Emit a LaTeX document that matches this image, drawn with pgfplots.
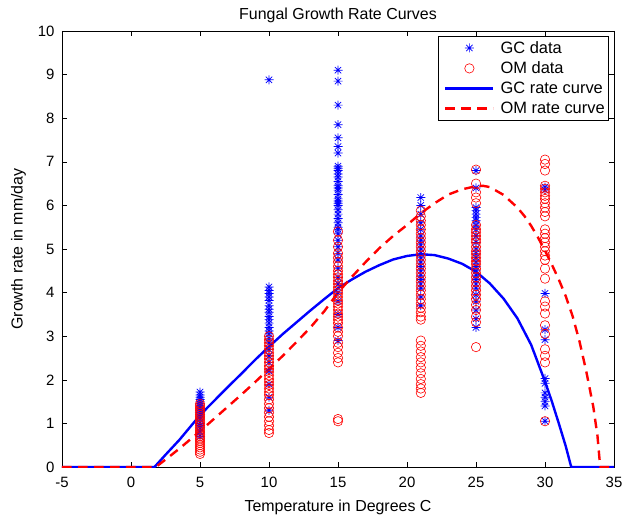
\documentclass[border=0pt]{standalone}
\usepackage{pgfplots}
\pgfplotsset{compat=1.18}
\usepackage{fontspec}
\setmainfont{Liberation Sans}
\definecolor{mblue}{RGB}{0,0,255}
\definecolor{mred}{RGB}{255,0,0}
\pgfdeclareplotmark{matstar}{%
  \pgfpathmoveto{\pgfqpoint{-\pgfplotmarksize}{0pt}}\pgfpathlineto{\pgfqpoint{\pgfplotmarksize}{0pt}}%
  \pgfpathmoveto{\pgfqpoint{0pt}{-\pgfplotmarksize}}\pgfpathlineto{\pgfqpoint{0pt}{\pgfplotmarksize}}%
  \pgfpathmoveto{\pgfqpoint{-.707\pgfplotmarksize}{-.707\pgfplotmarksize}}\pgfpathlineto{\pgfqpoint{.707\pgfplotmarksize}{.707\pgfplotmarksize}}%
  \pgfpathmoveto{\pgfqpoint{-.707\pgfplotmarksize}{.707\pgfplotmarksize}}\pgfpathlineto{\pgfqpoint{.707\pgfplotmarksize}{-.707\pgfplotmarksize}}%
  \pgfusepathqstroke}
\pgfplotsset{
  marklegend/.style={legend image code/.code={\path (-4bp,0bp) (52bp,0bp);\draw[mark repeat=2,mark phase=2,##1] plot coordinates {(0bp,0bp) (24bp,0bp) (48bp,0bp)};}},
  linelegend/.style={legend image code/.code={\path (-4bp,0bp) (52bp,0bp);\draw[##1] (0bp,0bp) -- (48bp,0bp);}},
}
\begin{document}
\begin{tikzpicture}
\begin{axis}[
  scale only axis, width=552bp, height=436bp,
  xmin=-5, xmax=35, ymin=0, ymax=10,
  xtick={-5,0,...,35}, ytick={0,1,...,10},
  tick align=inside, major tick length=5bp,
  axis line style={line width=0.6bp}, tick style={line width=0.6bp,black},
  /pgf/number format/assume math mode=true,
  ticklabel style={font=\fontsize{15}{17}\selectfont},
  xticklabel style={yshift=-7bp},
  yticklabel style={xshift=-4bp},
  label style={font=\fontsize{16}{18}\selectfont},
  title style={font=\fontsize{16}{18}\selectfont, yshift=-1bp},
  title={Fungal Growth Rate Curves},
  xlabel={Temperature in Degrees C},
  ylabel={Growth rate in mm/day},
  xlabel style={yshift=-5bp},
  ylabel style={yshift=5bp},
  legend style={at={(1,1)}, anchor=north east, xshift=-5bp, yshift=-5bp,
    font=\fontsize{16.5}{19}\selectfont, draw=black, line width=0.6bp,
    row sep=3bp, inner xsep=2bp, inner ysep=3bp},
  legend cell align=left,
]
\addplot[only marks, mark=matstar, mark size=4.5bp, color=mblue, line width=0.7bp, marklegend]
coordinates {
(5,1.72)(5,1.65)(5,1.6)(5,1.55)(5,1.5)(5,1.45)(5,1.4)(5,1.35)(5,1.3)(5,1.25)(5,1.2)(5,1.15)(5,1.1)(5,1.0)(5,0.95)(5,0.9)(5,0.8)(5,0.7)
(10,8.88)(10,4.13)(10,4.05)(10,3.98)(10,3.9)(10,3.82)(10,3.7)(10,3.62)(10,3.55)(10,3.45)(10,3.38)(10,3.3)(10,3.2)(10,3.12)(10,3.05)(10,2.95)(10,2.85)(10,2.7)(10,2.55)(10,2.4)(10,2.2)(10,1.9)(10,1.6)(10,1.3)
(15,9.1)(15,8.85)(15,8.3)(15,7.85)(15,7.55)(15,7.35)(15,7.2)(15,6.9)(15,6.85)(15,6.8)(15,6.72)(15,6.65)(15,6.55)(15,6.45)(15,6.4)(15,6.35)(15,6.25)(15,6.15)(15,6.1)(15,6.05)(15,6.0)(15,5.9)(15,5.8)(15,5.7)(15,5.6)(15,5.5)(15,5.45)(15,5.35)(15,5.2)(15,5.05)(15,4.9)(15,4.75)(15,4.55)(15,4.35)(15,4.2)(15,4.0)(15,3.8)(15,3.5)(15,3.2)(15,2.9)
(21,6.18)(21,6.0)(21,5.8)(21,5.6)(21,5.45)(21,5.3)(21,5.2)(21,5.1)(21,5.0)(21,4.9)(21,4.8)(21,4.7)(21,4.6)(21,4.5)(21,4.4)(21,4.3)(21,4.2)(21,4.1)(21,3.9)(21,3.7)
(25,6.8)(25,6.4)(25,5.95)(25,5.88)(25,5.8)(25,5.72)(25,5.65)(25,5.55)(25,5.45)(25,5.3)(25,5.15)(25,5.0)(25,4.9)(25,4.8)(25,4.7)(25,4.6)(25,4.5)(25,4.4)(25,4.3)(25,4.2)(25,4.1)(25,3.95)(25,3.8)(25,3.6)(25,3.4)(25,3.2)
(30,6.42)(30,6.35)(30,3.98)(30,3.15)(30,2.92)(30,2.03)(30,1.92)(30,1.7)(30,1.6)(30,1.5)(30,1.4)(30,1.05)
};
\addlegendentry{GC data}
\addplot[only marks, mark=o, mark size=4.7bp, color=mred, line width=0.6bp, marklegend]
coordinates {
(5,1.45)(5,1.4)(5,1.35)(5,1.3)(5,1.25)(5,1.2)(5,1.15)(5,1.1)(5,1.05)(5,1.0)(5,0.95)(5,0.9)(5,0.85)(5,0.8)(5,0.75)(5,0.7)(5,0.65)(5,0.6)(5,0.55)(5,0.5)(5,0.45)(5,0.4)(5,0.35)(5,0.3)
(10,3.0)(10,2.92)(10,2.85)(10,2.78)(10,2.7)(10,2.62)(10,2.55)(10,2.48)(10,2.4)(10,2.32)(10,2.25)(10,2.18)(10,2.1)(10,2.02)(10,1.95)(10,1.88)(10,1.8)(10,1.72)(10,1.65)(10,1.55)(10,1.45)(10,1.35)(10,1.25)(10,1.15)(10,1.05)(10,0.95)(10,0.85)(10,0.78)
(15,5.4)(15,5.2)(15,5.05)(15,4.9)(15,4.8)(15,4.7)(15,4.6)(15,4.5)(15,4.42)(15,4.35)(15,4.27)(15,4.2)(15,4.12)(15,4.05)(15,3.98)(15,3.9)(15,3.82)(15,3.75)(15,3.68)(15,3.6)(15,3.52)(15,3.45)(15,3.38)(15,3.3)(15,3.2)(15,3.1)(15,3.0)(15,2.85)(15,2.75)(15,2.62)(15,2.5)(15,2.4)(15,1.1)(15,1.05)
(21,5.88)(21,5.75)(21,5.65)(21,5.55)(21,5.45)(21,5.35)(21,5.25)(21,5.15)(21,5.05)(21,4.95)(21,4.85)(21,4.75)(21,4.65)(21,4.55)(21,4.45)(21,4.35)(21,4.25)(21,4.15)(21,4.05)(21,3.95)(21,3.85)(21,3.75)(21,3.65)(21,3.55)(21,3.45)(21,3.38)(21,2.9)(21,2.78)(21,2.65)(21,2.52)(21,2.4)(21,2.28)(21,2.15)(21,2.02)(21,1.9)(21,1.8)(21,1.7)
(25,6.82)(25,6.5)(25,6.3)(25,6.18)(25,6.05)(25,5.55)(25,5.45)(25,5.38)(25,5.3)(25,5.22)(25,5.15)(25,5.05)(25,4.95)(25,4.88)(25,4.8)(25,4.72)(25,4.65)(25,4.55)(25,4.45)(25,4.35)(25,4.25)(25,4.15)(25,4.05)(25,3.95)(25,3.85)(25,3.72)(25,3.6)(25,3.45)(25,3.32)(25,2.75)
(30,7.05)(30,6.95)(30,6.8)(30,6.45)(30,6.38)(30,6.3)(30,6.22)(30,6.15)(30,6.05)(30,5.95)(30,5.85)(30,5.75)(30,5.45)(30,5.35)(30,5.25)(30,5.15)(30,5.05)(30,4.95)(30,4.85)(30,4.75)(30,4.55)(30,4.32)(30,3.8)(30,3.68)(30,3.52)(30,3.25)(30,3.05)(30,2.7)(30,2.55)(30,2.4)(30,1.05)
};
\addlegendentry{OM data}
\addplot[color=mblue, line width=2.4bp, line join=round, linelegend]
coordinates {
(-5,0)(1.7,0)(2.5,0.28)(3.5,0.62)(5,1.19)(6,1.51)(7,1.83)(8,2.14)(9,2.46)(10,2.76)(11,3.05)(12,3.32)(13,3.59)(14,3.85)(15,4.10)(16,4.30)(17,4.48)(18,4.63)(19,4.76)(20,4.84)(21,4.88)(22,4.86)(23,4.78)(24,4.66)(25,4.48)(26,4.21)(27,3.86)(28,3.41)(29,2.80)(30,1.96)(30.5,1.50)(31,1.00)(31.5,0.48)(31.9,0)(35,0)
};
\addlegendentry{GC rate curve}
\addplot[color=mred, line width=2.4bp, line join=round, dash pattern=on 9.5bp off 6.5bp, linelegend]
coordinates {
(-5,0)(1.8,0)(2.5,0.17)(3.5,0.42)(5,0.82)(6,1.1)(7,1.38)(8,1.66)(9,1.95)(10,2.25)(11,2.55)(12,2.87)(13,3.2)(14,3.57)(15,4.0)(16,4.36)(17,4.7)(18,5.02)(19,5.3)(20,5.55)(21,5.82)(22,6.05)(23,6.25)(24,6.37)(25,6.44)(25.5,6.45)(26,6.42)(27,6.24)(28,5.95)(28.5,5.76)(29,5.53)(29.5,5.26)(30,4.96)(30.5,4.64)(31,4.3)(31.5,3.92)(32,3.46)(32.5,2.88)(33,2.18)(33.5,1.38)(33.8,0.72)(34,0)(35,0)
};
\addlegendentry{OM rate curve}
\end{axis}
\pgfresetboundingbox
\path ([shift={(-62bp,-54bp)}]current axis.south west) rectangle ([shift={(17bp,31bp)}]current axis.north east);
\end{tikzpicture}
\end{document}
